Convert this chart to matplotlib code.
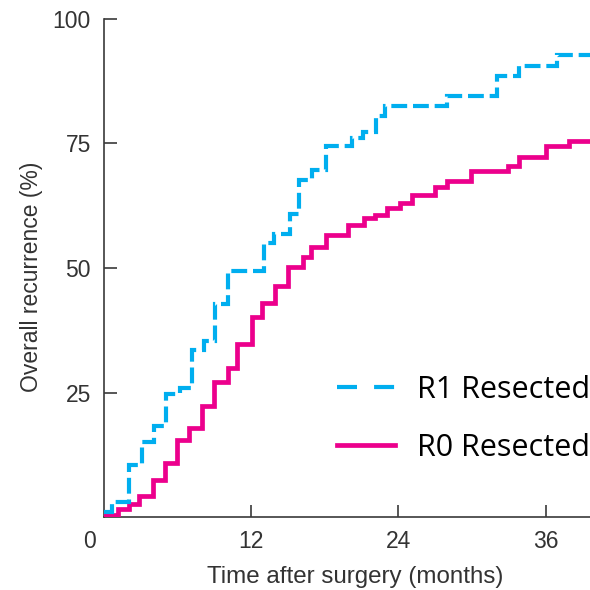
import matplotlib
matplotlib.use("Agg")
import matplotlib.pyplot as plt
from matplotlib.lines import Line2D
from matplotlib.transforms import ScaledTranslation

# R1 resected (blue dashed) - months, cumulative recurrence %
r1_t = [0, 0.73, 2.1, 3.1, 4.15, 5.1, 6.2, 7.2, 8.2, 9.1, 10.1, 13.1, 13.9, 15.2,
        15.9, 17.0, 18.1, 20.2, 21.1, 22.2, 22.9, 28.0, 32.0, 33.8, 36.9, 39.6]
r1_v = [1.0, 3.0, 10.5, 15.0, 18.3, 24.6, 26.0, 33.5, 35.3, 42.7, 49.4, 55.0, 56.9, 60.9,
        67.7, 69.6, 74.4, 76.2, 77.4, 80.6, 82.5, 84.5, 88.5, 90.5, 92.7, 92.7]

# R0 resected (magenta solid)
r0_t = [0, 1.14, 2.1, 2.9, 4.0, 5.0, 6.0, 7.0, 8.05, 9.0, 10.1, 10.9, 12.1, 12.9, 14.0,
        15.0, 16.2, 16.9, 18.1, 19.9, 21.2, 22.1, 23.1, 24.1, 25.1, 27.0, 28.0, 29.9,
        32.9, 33.8, 36.0, 37.9, 39.6]
r0_v = [0.4, 1.6, 2.6, 4.2, 7.5, 10.9, 15.5, 17.9, 22.2, 27.2, 30.0, 34.7, 40.1, 42.9, 46.4,
        50.2, 52.2, 54.2, 56.7, 58.7, 60.1, 60.7, 62.1, 63.1, 64.7, 66.3, 67.5, 69.4,
        70.4, 72.3, 74.5, 75.6, 75.6]

x_ticks = [0, 12, 24, 36]
x_labels = ["0", "12", "24", "36"]
y_ticks = [25, 50, 75, 100]
y_labels = ["25", "50", "75", "100"]
labels = ["R1 Resected", "R0 Resected"]

BLUE = "#00AEEF"
PINK = "#EC008C"
AX_COL = "#3a3a3a"

W = 590
fig = plt.figure(figsize=(5.9, 5.9), dpi=100)
ax = fig.add_axes([103.5 / W, 73 / W, (W - 103.5) / W, 498 / W])

ax.step(r0_t, r0_v, where="post", color=PINK, lw=3.4, solid_joinstyle="miter", zorder=3)
ax.step(r1_t, r1_v, where="post", color=BLUE, lw=3.0, linestyle=(0, (3.8, 1.4)),
        dash_capstyle="butt", dash_joinstyle="miter", zorder=3)

ax.set_xlim(0, 39.6)
ax.set_ylim(0, 100)
for s in ["top", "right"]:
    ax.spines[s].set_visible(False)
for s in ["left", "bottom"]:
    ax.spines[s].set_color(AX_COL)
    ax.spines[s].set_linewidth(1.2)

font = "Liberation Sans"
ax.set_xticks(x_ticks)
ax.set_xticklabels(x_labels, fontsize=16.5, family=font, color="#333333")
ax.set_yticks(y_ticks)
ax.set_yticklabels(y_labels, fontsize=16.5, family=font, color="#333333")
ax.tick_params(axis="both", direction="in", length=9, width=1.2, color=AX_COL)
ax.tick_params(axis="x", pad=9)
ax.tick_params(axis="y", pad=9)
# first x tick: no mark, label shifted left
ax.xaxis.get_major_ticks()[0].tick1line.set_visible(False)
lab0 = ax.get_xticklabels()[0]
lab0.set_transform(lab0.get_transform() + ScaledTranslation(-0.14, 0, fig.dpi_scale_trans))

fig.text(32 / W, 1 - 277 / W, "Overall recurrence (%)", rotation=90, ha="center",
         va="center", fontsize=16.5, family=font, color="#333333")
fig.text(355 / W, 1 - 577 / W, "Time after surgery (months)", ha="center",
         va="center", fontsize=17.4, family=font, color="#333333")

handles = [Line2D([], [], color=BLUE, lw=3.0, linestyle=(0, (4.8, 4.1)), dash_capstyle="butt"),
           Line2D([], [], color=PINK, lw=3.4)]
leg = ax.legend(handles, labels, loc="upper left", bbox_to_anchor=(337 / W, 1 - 375 / W),
                bbox_transform=fig.transFigure, frameon=False,
                prop={"family": "Open Sans", "size": 22},
                handlelength=1.9, handletextpad=0.72, labelspacing=0.9, borderpad=0,
                borderaxespad=0)

fig.savefig("out.png", dpi=100)
